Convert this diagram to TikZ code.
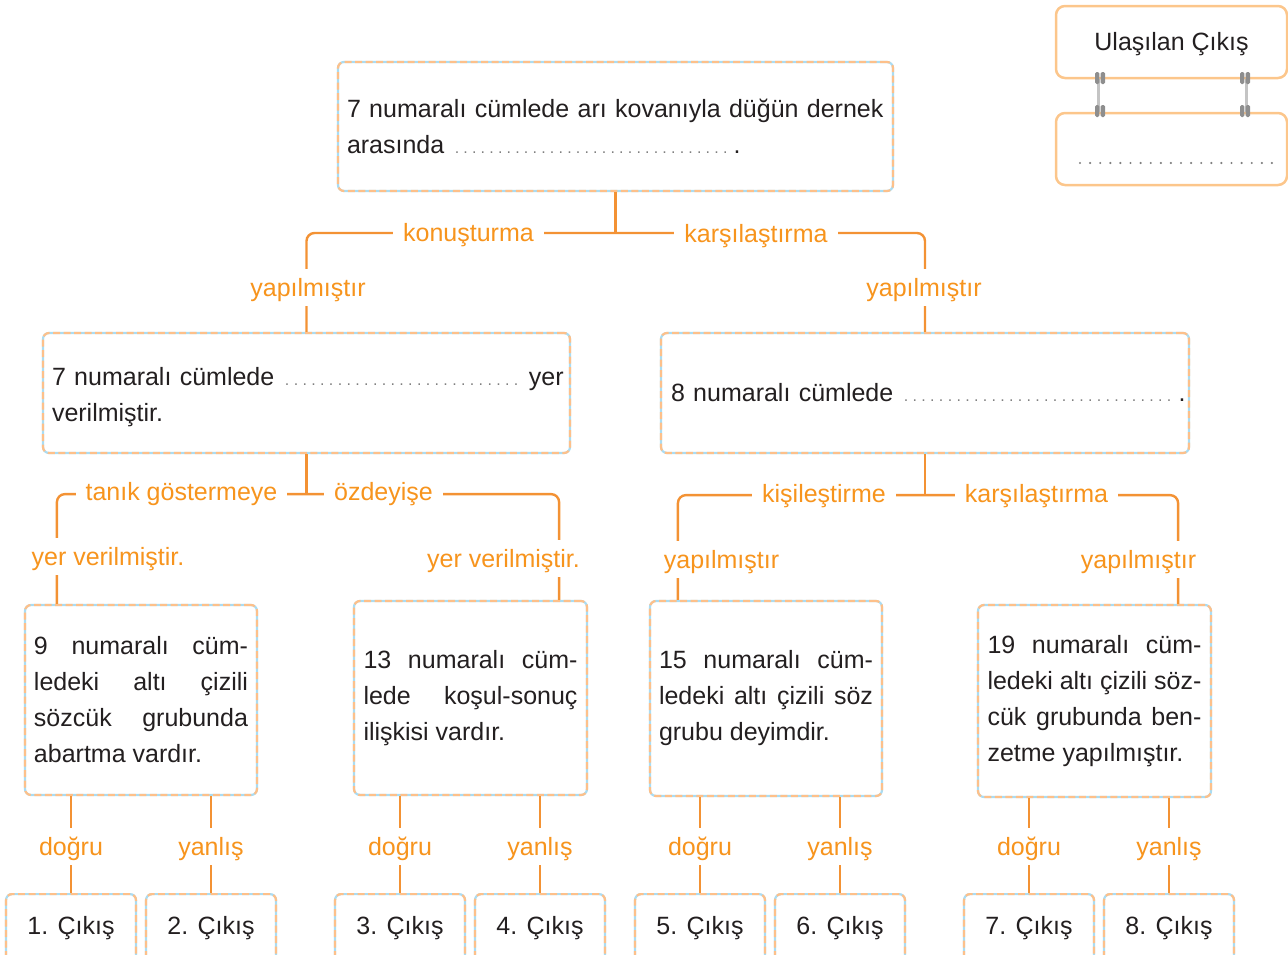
\documentclass[tikz,border=0pt]{standalone}
\usepackage{fontspec}
\setmainfont{Liberation Sans}
\definecolor{connc}{HTML}{F39234}
\definecolor{labc}{HTML}{F7941D}
\definecolor{boxor}{HTML}{FDC08A}
\definecolor{boxbl}{HTML}{A9DCF3}
\definecolor{txtc}{HTML}{231F20}
\definecolor{dotc}{HTML}{808080}
\definecolor{oborder}{HTML}{FCC68B}
\definecolor{glinec}{HTML}{C4C4C4}
\definecolor{clipc}{HTML}{8E8E8E}
\newcommand\dotline[1]{\hbox to #1pt{\xleaders\hbox to 8.6pt{\hss\textcolor{dotc}{\fontsize{16}{16}\selectfont.}\hss}\hfill}}
\newcommand\jl[1]{\makebox[214pt][s]{#1}}
\begin{document}
\begin{tikzpicture}[x=1pt,y=-1pt,
  box/.style={rounded corners=6pt, draw=boxor, line width=2.2pt, dash pattern=on 7pt off 3.5pt,
    preaction={draw=boxbl, solid, line width=2.2pt}, inner sep=0pt, text=txtc,
    font=\fontsize{25}{36}\selectfont},
  obox/.style={rounded corners=9pt, draw=oborder, line width=2.5pt, inner sep=0pt, text=txtc,
    font=\fontsize{25}{36}\selectfont},
  conn/.style={draw=connc, line width=2.4pt, rounded corners=8pt},
  lab/.style={fill=white, text=labc, font=\fontsize{25}{30}\selectfont, anchor=base,
    text height=20pt, text depth=3pt, inner xsep=10pt, inner ysep=7pt},
  gline/.style={draw=glinec, line width=3pt},
  outbox/.style={box, anchor=north, minimum width=130pt, text height=40pt, text depth=40pt, inner ysep=0pt}
]
\useasboundingbox (0,0) rectangle (1288,954);
\clip (0,0) rectangle (1288,954);

% ---- boxes ----
\node[box, minimum width=555pt, minimum height=129pt, text width=537pt, align=left] (top) at (615.5,126.5)
  {\mbox{7 numaralı cümlede arı kovanıyla düğün dernek}\\\mbox{arasında \dotline{277}\hspace{4pt}.}};
\node[box, minimum width=527pt, minimum height=120pt, text width=509pt, align=left, text depth=34pt] (L) at (306.5,393)
  {\mbox{7 numaralı cümlede \dotline{238} yer}\\verilmiştir.};
\node[box, minimum width=528pt, minimum height=120pt, text width=508pt, align=left] (R) at (925,393)
  {\mbox{8 numaralı cümlede \dotline{272}\hspace{5pt}.}};

\node[box, minimum width=232pt, minimum height=190pt, align=left] (B9) at (141,700)
  {\jl{9 numaralı cüm-}\\\jl{ledeki altı çizili}\\\jl{sözcük grubunda}\\abartma vardır.};
\node[box, minimum width=233pt, minimum height=194pt, align=left] (B13) at (470.5,698)
  {\jl{13 numaralı cüm-}\\\jl{lede koşul-sonuç}\\ilişkisi vardır.\hfill\null};
\node[box, minimum width=232pt, minimum height=195pt, align=left] (B15) at (766,698.5)
  {\jl{15 numaralı cüm-}\\\jl{ledeki altı çizili söz}\\grubu deyimdir.\hfill\null};
\node[box, minimum width=233pt, minimum height=192pt, align=left] (B19) at (1094.5,701)
  {\jl{19 numaralı cüm-}\\\jl{ledeki altı çizili söz-}\\\jl{cük grubunda ben-}\\zetme yapılmıştır.};

\node[outbox] (O1) at (71,893) {1. Çıkış};
\node[outbox] (O2) at (211,893) {2. Çıkış};
\node[outbox] (O3) at (400,893) {3. Çıkış};
\node[outbox] (O4) at (540,893) {4. Çıkış};
\node[outbox] (O5) at (700,893) {5. Çıkış};
\node[outbox] (O6) at (840,893) {6. Çıkış};
\node[outbox] (O7) at (1029,893) {7. Çıkış};
\node[outbox] (O8) at (1169,893) {8. Çıkış};

% ---- connectors ----
\coordinate (j1) at (615.5,233);
\draw[conn] (top.south) -- (j1);
\draw[conn] (L.north) |- (j1) -| (R.north);

\path (L.south) ++(0,40) coordinate (j2);
\draw[conn] (L.south) -- (j2);
\draw[conn] ([xshift=33pt]B9.north west) |- (j2) -| ([xshift=-29pt]B13.north east);

\path (R.south) ++(0,41) coordinate (j3);
\draw[conn] (R.south) -- (j3);
\draw[conn] ([xshift=29pt]B15.north west) |- (j3) -| ([xshift=-34pt]B19.north east);

\foreach \o/\b in {O1/B9,O2/B9,O3/B13,O4/B13,O5/B15,O6/B15,O7/B19,O8/B19}
  \draw[conn] (\o.north) -- (\o.north |- \b.south);

% ---- labels ----
\node[lab] (l1) at (468.5,241) {konuşturma};
\node[lab] (l2) at (756,242) {karşılaştırma};
\node[lab] (l3) at (308,296) {yapılmıştır};
\node[lab] (l4) at (924,296) {yapılmıştır};
\node[lab] (l5) at (181.5,500) {tanık göstermeye};
\node[lab] (l6) at (383.5,500) {özdeyişe};
\node[lab] (l7) at (824,502) {kişileştirme};
\node[lab] (l8) at (1036.5,502) {karşılaştırma};
\node[lab] (l9) at (108,565) {yer verilmiştir.};
\node[lab] (l10) at (503.5,567) {yer verilmiştir.};
\node[lab] (l11) at (721.5,568) {yapılmıştır};
\node[lab] (l12) at (1138.5,568) {yapılmıştır};
\foreach \o/\t in {O1/doğru,O2/yanlış,O3/doğru,O4/yanlış,O5/doğru,O6/yanlış,O7/doğru,O8/yanlış}
  \node[lab] (lab\o) at (\o.north |- 0,855) {\t};

% ---- top-right legend ----
\node[obox, minimum width=231pt, minimum height=72pt, text height=26pt, text depth=10pt] (ua) at (1171.5,42) {Ulaşılan Çıkış};
\node[obox, minimum width=231pt, minimum height=72pt] (ub) at (1171.5,149) {};
\draw[gline] ([xshift=44pt]ua.south west) -- ([xshift=44pt]ub.north west);
\draw[gline] ([xshift=-42pt]ua.south east) -- ([xshift=-42pt]ub.north east);
\foreach \cx in {1100,1245}
  \foreach \cy in {78,111}{
    \fill[clipc, rounded corners=1.5pt] (\cx-5,\cy-6) rectangle (\cx-0.6,\cy+6);
    \fill[clipc, rounded corners=1.5pt] (\cx+0.6,\cy-6) rectangle (\cx+5,\cy+6);
  }
\draw[dotc, line width=2.4pt, line cap=round, dash pattern=on 0pt off 10.1pt] (1080,163) -- (1272,163);
\end{tikzpicture}
\end{document}
